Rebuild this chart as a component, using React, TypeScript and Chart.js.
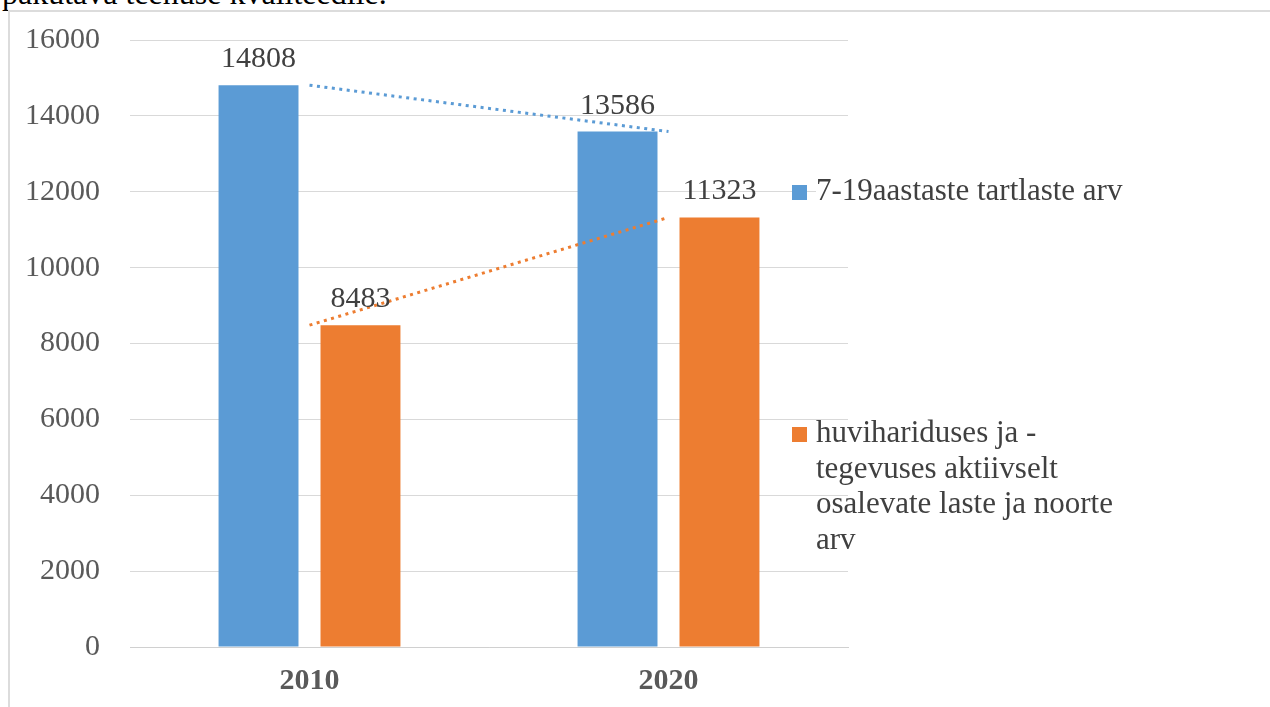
import React, { useEffect, useRef } from "react";
import { Chart, registerables } from "chart.js";

Chart.register(...registerables);

const categories = ["2010", "2020"];
const seriesNames = [
  "7-19aastaste tartlaste arv",
  "huvihariduses ja - tegevuses aktiivselt osalevate laste ja noorte arv",
];
const legendLines = [
  ["7-19aastaste tartlaste arv"],
  ["huvihariduses ja -", "tegevuses aktiivselt", "osalevate laste ja noorte", "arv"],
];
const youthCount = [14808, 13586];
const activeCount = [8483, 11323];
const yTicks = [0, 2000, 4000, 6000, 8000, 10000, 12000, 14000, 16000];

const BLUE = "#5B9BD5";
const ORANGE = "#ED7D31";
const FONT = "'Liberation Serif', 'Times New Roman', serif";

const labelPlugin = {
  id: "barLabels",
  afterDatasetsDraw(chart: any) {
    const ctx = chart.ctx;
    ctx.save();
    ctx.font = `30px ${FONT}`;
    ctx.fillStyle = "#404040";
    ctx.textAlign = "center";
    ctx.textBaseline = "alphabetic";
    chart.data.datasets.forEach((ds: any, di: number) => {
      if (ds.type !== "bar") return;
      const meta = chart.getDatasetMeta(di);
      meta.data.forEach((el: any, i: number) => {
        ctx.fillText(String(ds.data[i]), el.x, el.y - 18);
      });
    });
    ctx.restore();
  },
};

const legendPlugin = {
  id: "customLegend",
  afterDraw(chart: any) {
    const ctx = chart.ctx;
    ctx.save();
    ctx.font = `31px ${FONT}`;
    ctx.textBaseline = "alphabetic";
    ctx.textAlign = "left";
    const items = [
      { color: BLUE, lines: legendLines[0], baseline: 200, bg: true },
      { color: ORANGE, lines: legendLines[1], baseline: 442, bg: false },
    ];
    items.forEach((it) => {
      if (it.bg) {
        const w = ctx.measureText(it.lines[0]).width;
        ctx.fillStyle = "#ffffff";
        ctx.fillRect(816, it.baseline - 24, w + 4, 32);
      }
      ctx.fillStyle = it.color;
      ctx.fillRect(792, it.baseline - 15, 15, 15);
      ctx.fillStyle = "#404040";
      it.lines.forEach((ln, k) => {
        ctx.fillText(ln, 816, it.baseline + k * 35.7);
      });
    });
    ctx.restore();
  },
};

export default function App() {
  const ref = useRef<HTMLCanvasElement | null>(null);

  useEffect(() => {
    if (!ref.current) return;
    const chart = new Chart(ref.current, {
      type: "bar",
      data: {
        labels: categories,
        datasets: [
          {
            type: "line",
            label: "trend1",
            data: youthCount,
            borderColor: BLUE,
            borderWidth: 3,
            borderDash: [3, 4.5],
            pointRadius: 0,
            fill: false,
            order: 0,
          } as any,
          {
            type: "line",
            label: "trend2",
            data: activeCount,
            borderColor: ORANGE,
            borderWidth: 3,
            borderDash: [3, 4.5],
            pointRadius: 0,
            fill: false,
            order: 0,
          } as any,
          {
            type: "bar",
            label: seriesNames[0],
            data: youthCount,
            backgroundColor: BLUE,
            categoryPercentage: 0.568,
            barPercentage: 0.784,
            order: 1,
          } as any,
          {
            type: "bar",
            label: seriesNames[1],
            data: activeCount,
            backgroundColor: ORANGE,
            categoryPercentage: 0.568,
            barPercentage: 0.784,
            order: 1,
          } as any,
        ],
      },
      options: {
        responsive: false,
        animation: false,
        devicePixelRatio: 1,
        layout: { padding: { left: 0, top: 40, right: 422, bottom: 0 } },
        plugins: {
          legend: { display: false },
          tooltip: { enabled: false },
        },
        scales: {
          x: {
            grid: { display: false, drawTicks: false },
            border: { display: true, color: "#d0d0d0", width: 1 },
            ticks: {
              color: "#595959",
              font: { family: FONT, size: 30, weight: "bold" },
              padding: 16,
            },
            afterFit: (s: any) => {
              s.height = 60;
              s.paddingLeft = 0;
              s.paddingRight = 0;
            },
          },
          y: {
            min: 0,
            max: 16000,
            afterBuildTicks: (s: any) => {
              s.ticks = yTicks.map((v) => ({ value: v }));
            },
            grid: { color: "#d9d9d9", lineWidth: 1, drawTicks: false },
            border: { display: false },
            ticks: {
              color: "#595959",
              font: { family: FONT, size: 30 },
              padding: 30,
              callback: (v: any) => String(v),
            },
            afterFit: (s: any) => {
              s.width = 130;
              s.paddingTop = 0;
              s.paddingBottom = 0;
            },
          },
        },
      },
      plugins: [labelPlugin, legendPlugin],
    });
    return () => chart.destroy();
  }, []);

  return (
    <div
      style={{
        position: "absolute",
        left: 0,
        top: 0,
        width: 1270,
        height: 707,
        overflow: "hidden",
        background: "#ffffff",
      }}
    >
      <div
        style={{
          position: "absolute",
          left: 2,
          top: -23,
          fontFamily: FONT,
          fontSize: 32,
          lineHeight: "32px",
          color: "#000000",
          whiteSpace: "nowrap",
        }}
      >
        pakutava teenuse kvaliteedile.
      </div>
      <div
        style={{
          position: "absolute",
          left: 8,
          top: 10,
          width: 1300,
          height: 800,
          border: "2px solid #dcdcdc",
          boxSizing: "border-box",
        }}
      />
      <canvas
        ref={ref}
        width={1270}
        height={707}
        style={{ position: "absolute", left: 0, top: 0 }}
      />
    </div>
  );
}
